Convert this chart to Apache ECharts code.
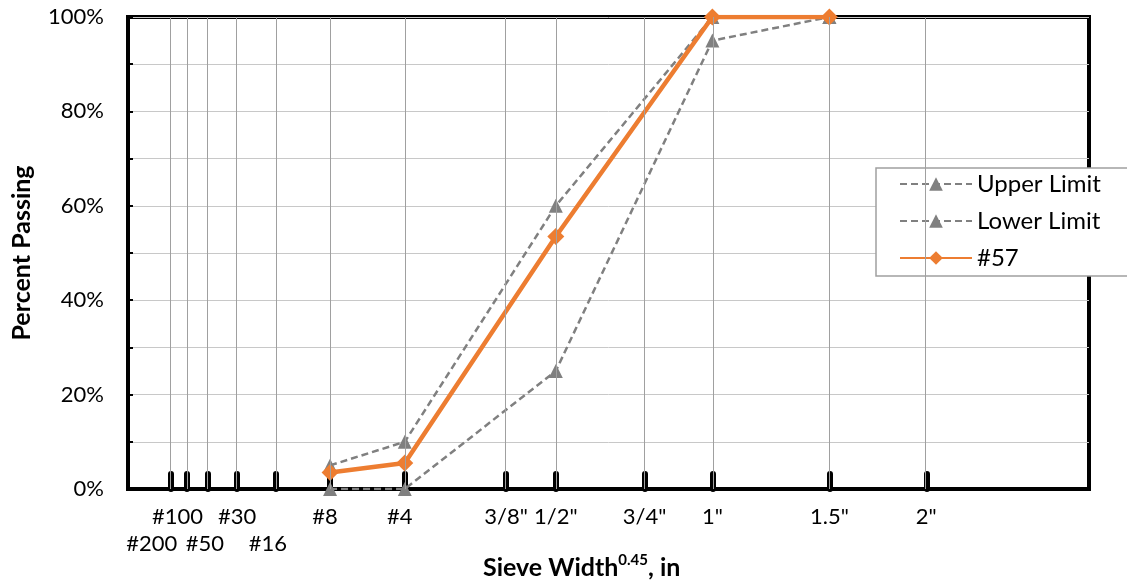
<!DOCTYPE html>
<html>
<head>
<meta charset="utf-8">
<script src="https://cdn.jsdelivr.net/npm/echarts@6/dist/echarts.min.js"></script>
<style>
html,body{margin:0;padding:0;background:#fff;}
#chart{width:1127px;height:584px;}
</style>
</head>
<body>
<div id="chart"></div>
<script>
// Sieve openings (mm) and their labels
var sieveLabels = ['#200', '#100', '#50', '#30', '#16', '#8', '#4', '3/8"', '1/2"', '3/4"', '1"', '1.5"', '2"'];
var sieveMm = [0.075, 0.15, 0.3, 0.6, 1.18, 2.36, 4.75, 9.5, 12.5, 19, 25, 37.5, 50];
var secondRowLabels = ['#200', '#50', '#16'];
var exponent = 0.45;

// Series (percent passing) at these sieves
var pointSieves = ['#8', '#4', '1/2"', '1"', '1.5"'];
var upperLimit = [5, 10, 60, 100, 100];
var lowerLimit = [0, 0, 25, 95, 100];
var mix57 = [3.5, 5.5, 53.5, 100, 100];

var yTicks = [0, 20, 40, 60, 80, 100];

function xOf(label) {
  return Math.pow(sieveMm[sieveLabels.indexOf(label)], exponent);
}
var sieveX = sieveMm.map(function (v) { return Math.pow(v, exponent); });
// split labels into rows; the first label of each row gets its own axis so
// ECharts' min-label overlap check does not hide its neighbour
var row1First = [], row1X = [], row2First = [], row2X = [];
sieveLabels.forEach(function (t, i) {
  if (secondRowLabels.indexOf(t) >= 0) {
    (row2First.length === 0 ? row2First : row2X).push(sieveX[i]);
  } else {
    (row1First.length === 0 ? row1First : row1X).push(sieveX[i]);
  }
});
function pairs(vals) {
  return pointSieves.map(function (s, i) { return [xOf(s), vals[i]]; });
}

var FONT = 'Lato';
// label nudges (px to the left), layout only
var labelNudge = {'#200': 19, '#100': 9, '#50': 3, '#16': 8, '#8': 5, '#4': 5};
var richLabels = {};
sieveLabels.forEach(function (t, i) {
  var d = labelNudge[t] || 0;
  richLabels['n' + i] = {fontFamily: FONT, fontSize: 22, color: '#000', lineHeight: 27, padding: [0, 2 * d, 0, 0]};
});
function labelFor(v) {
  for (var i = 0; i < sieveX.length; i++) {
    if (Math.abs(sieveX[i] - v) < 1e-6) return '{n' + i + '|' + sieveLabels[i] + '}';
  }
  return '';
}
function labelAxis(values, margin) {
  return {
    type: 'value', min: 0, max: 7, position: 'bottom',
    axisLine: {show: false}, axisTick: {show: false}, splitLine: {show: false},
    axisLabel: {
      customValues: values, margin: margin, fontFamily: FONT, fontSize: 22, color: '#000', lineHeight: 27,
      showMinLabel: true, showMaxLabel: true, hideOverlap: false,
      formatter: labelFor, rich: richLabels
    }
  };
}

var chart = echarts.init(document.getElementById('chart'), null, {renderer: 'canvas'});
chart.setOption({
  animation: false,
  backgroundColor: '#fff',
  textStyle: {fontFamily: FONT},
  title: {
    text: '{b|Sieve Width}{s|0.45}{b|, in}',
    left: 478, top: 548,
    textStyle: {
      rich: {
        b: {fontFamily: FONT, fontWeight: 'bold', fontSize: 25, color: '#000', lineHeight: 30},
        s: {fontFamily: FONT, fontWeight: 'bold', fontSize: 15, color: '#000', lineHeight: 30, verticalAlign: 'top', padding: [0, 0, 12, 0]}
      }
    }
  },
  grid: {
    left: 128, right: 38, top: 17, bottom: 95,
    show: true, borderColor: '#000', borderWidth: 4, backgroundColor: 'transparent'
  },
  legend: {
    data: ['Upper Limit', 'Lower Limit', '#57'],
    orient: 'vertical',
    left: 876, top: 168,
    itemWidth: 72, itemHeight: 17, itemGap: 13,
    padding: [4, 60, 6, 23],
    backgroundColor: '#fff',
    borderColor: '#a0a0a0', borderWidth: 1.5, borderRadius: 0,
    textStyle: {fontFamily: FONT, fontSize: 24, color: '#000'}
  },
  xAxis: [
    {
      type: 'value', min: 0, max: 7, position: 'bottom',
      axisLine: {show: true, lineStyle: {color: '#000', width: 4}},
      axisTick: {show: true, inside: true, length: 15, customValues: sieveX, lineStyle: {color: '#000', width: 6, cap: 'round'}},
      axisLabel: {show: false},
      splitLine: {show: false}
    },
    labelAxis(row1First, 14),
    labelAxis(row1X, 14),
    labelAxis(row2First, 41),
    labelAxis(row2X, 41)
  ],
  yAxis: {
    type: 'value', min: 0, max: 100, interval: 10,
    name: 'Percent Passing', nameLocation: 'middle', nameGap: 94,
    nameTextStyle: {fontFamily: FONT, fontWeight: 'bold', fontSize: 25, color: '#000'},
    axisLine: {show: true, lineStyle: {color: '#000', width: 4}},
    axisTick: {show: true, inside: true, length: 5, lineStyle: {color: '#000', width: 2}},
    axisLabel: {
      margin: 24, fontFamily: FONT, fontSize: 22, color: '#000',
      formatter: function (v) { return yTicks.indexOf(v) >= 0 ? v + '%' : ''; }
    },
    splitLine: {show: true, lineStyle: {color: '#c8c8c8', width: 1}}
  },
  series: [
    {
      name: 'gridlines', type: 'line', data: [], silent: true, z: 1,
      markLine: {
        silent: true, symbol: ['none', 'none'], label: {show: false},
        lineStyle: {color: '#a0a0a0', width: 1, type: 'solid'},
        emphasis: {disabled: true},
        data: sieveX.map(function (x) { return {xAxis: x}; })
      }
    },
    {
      name: 'Upper Limit', type: 'line', data: pairs(upperLimit), z: 3,
      symbol: 'triangle', symbolSize: 14,
      itemStyle: {color: '#808080'},
      lineStyle: {color: '#808080', width: 2.5, type: [7, 4]}
    },
    {
      name: 'Lower Limit', type: 'line', data: pairs(lowerLimit), z: 3,
      symbol: 'triangle', symbolSize: 14,
      itemStyle: {color: '#808080'},
      lineStyle: {color: '#808080', width: 2.5, type: [7, 4]}
    },
    {
      name: '#57', type: 'line', data: pairs(mix57), z: 4,
      symbol: 'diamond', symbolSize: 17,
      itemStyle: {color: '#ED7D31'},
      lineStyle: {color: '#ED7D31', width: 4.5}
    }
  ]
});
</script>
</body>
</html>
